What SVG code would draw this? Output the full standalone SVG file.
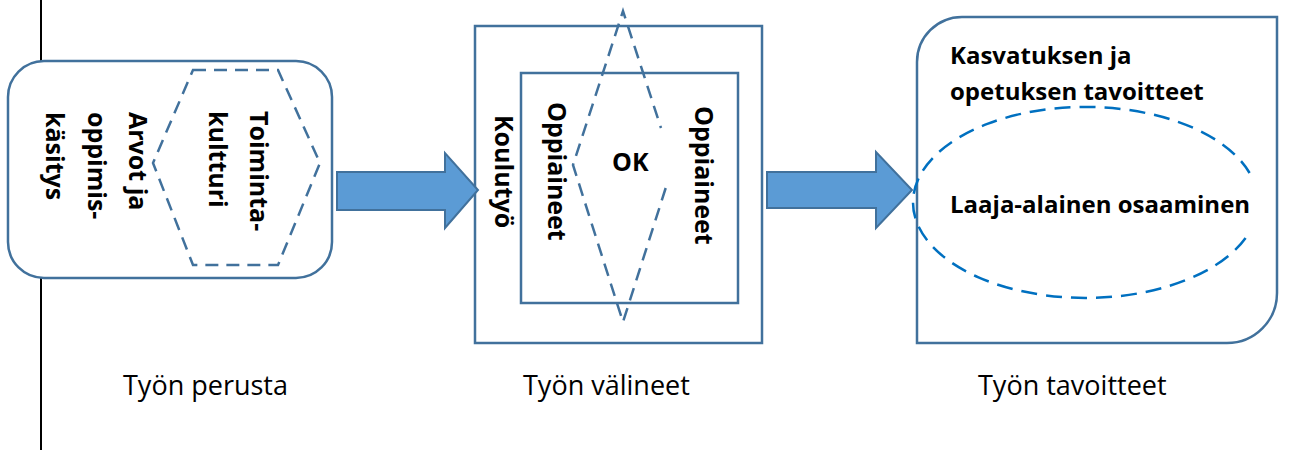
<svg xmlns="http://www.w3.org/2000/svg" width="1298" height="450" viewBox="0 0 1298 450">
<style>
.box{fill:#fff;stroke:#41719c;stroke-width:2.5}
.dash{fill:none;stroke:#41719c;stroke-width:2.5;stroke-dasharray:13 8}
.ell{fill:none;stroke:#0070c0;stroke-width:2.5;stroke-dasharray:16 9}
.arrow{fill:#5b9bd5;stroke:#41719c;stroke-width:2}
.b{font-family:"Open Sans","Liberation Sans",sans-serif;font-weight:bold;fill:#000}
.r{font-family:"Open Sans","Liberation Sans",sans-serif;font-size:27px;fill:#000}
.rot{font-size:25px}
.rt{font-size:24px}
</style>
<rect width="1298" height="450" fill="#fff"/>
<g id="margin-line" stroke="#000" stroke-width="2">
<line x1="41" y1="0" x2="41" y2="90"/>
<line x1="41" y1="239" x2="41" y2="450"/>
</g>
<g id="node-perusta">
<rect class="box" x="8" y="61" width="324" height="217" rx="36" ry="36"/>
<path class="dash" d="M193,70 L278,70 L320,163 L278,265 L193,265 L153,163 Z"/>
<text class="b rot" transform="translate(250,111) rotate(90)">Toiminta-</text>
<text class="b rot" transform="translate(209,111) rotate(90)">kultturi</text>
<text class="b rot" transform="translate(129,112) rotate(90)">Arvot ja</text>
<text class="b rot" transform="translate(88,112) rotate(90)">oppimis-</text>
<text class="b rot" transform="translate(46,112) rotate(90)">käsitys</text>
<text class="r" x="123" y="395">Työn perusta</text>
</g>
<g id="node-valineet">
<rect class="box" x="475" y="26" width="287" height="317"/>
<rect class="box" x="521" y="73" width="217" height="230"/>
<path class="dash" d="M665.7,188 L623,322 L573,165 L623,11 L661,128"/>
<text class="b rot" transform="translate(495,115) rotate(90)">Koulutyö</text>
<text class="b rot" transform="translate(548,102) rotate(90)">Oppiaineet</text>
<text class="b rot" transform="translate(695,106) rotate(90)">Oppiaineet</text>
<text class="b rot" x="612" y="171">OK</text>
<text class="r" x="523" y="395">Työn välineet</text>
</g>
<g id="node-tavoitteet">
<path class="box" d="M917,62 A45,45 0 0 1 962,17 L1277,17 L1277,293 A50,50 0 0 1 1227,343 L917,343 Z"/>
<path class="ell" d="M1245.6,238 A172.5,95.5 0 1 1 1249.6,173"/>
<text class="b rt" x="950" y="64">Kasvatuksen ja</text>
<text class="b rt" x="950" y="100">opetuksen tavoitteet</text>
<text class="b rt" x="950" y="213">Laaja-alainen osaaminen</text>
<text class="r" x="978" y="395">Työn tavoitteet</text>
</g>
<g id="connectors">
<path class="arrow" d="M337,172 H445 V153 L478,190 L445,228 V210 H337 Z"/>
<path class="arrow" d="M767,172 H876 V152 L912,190 L876,228 V208 H767 Z"/>
</g>
</svg>
